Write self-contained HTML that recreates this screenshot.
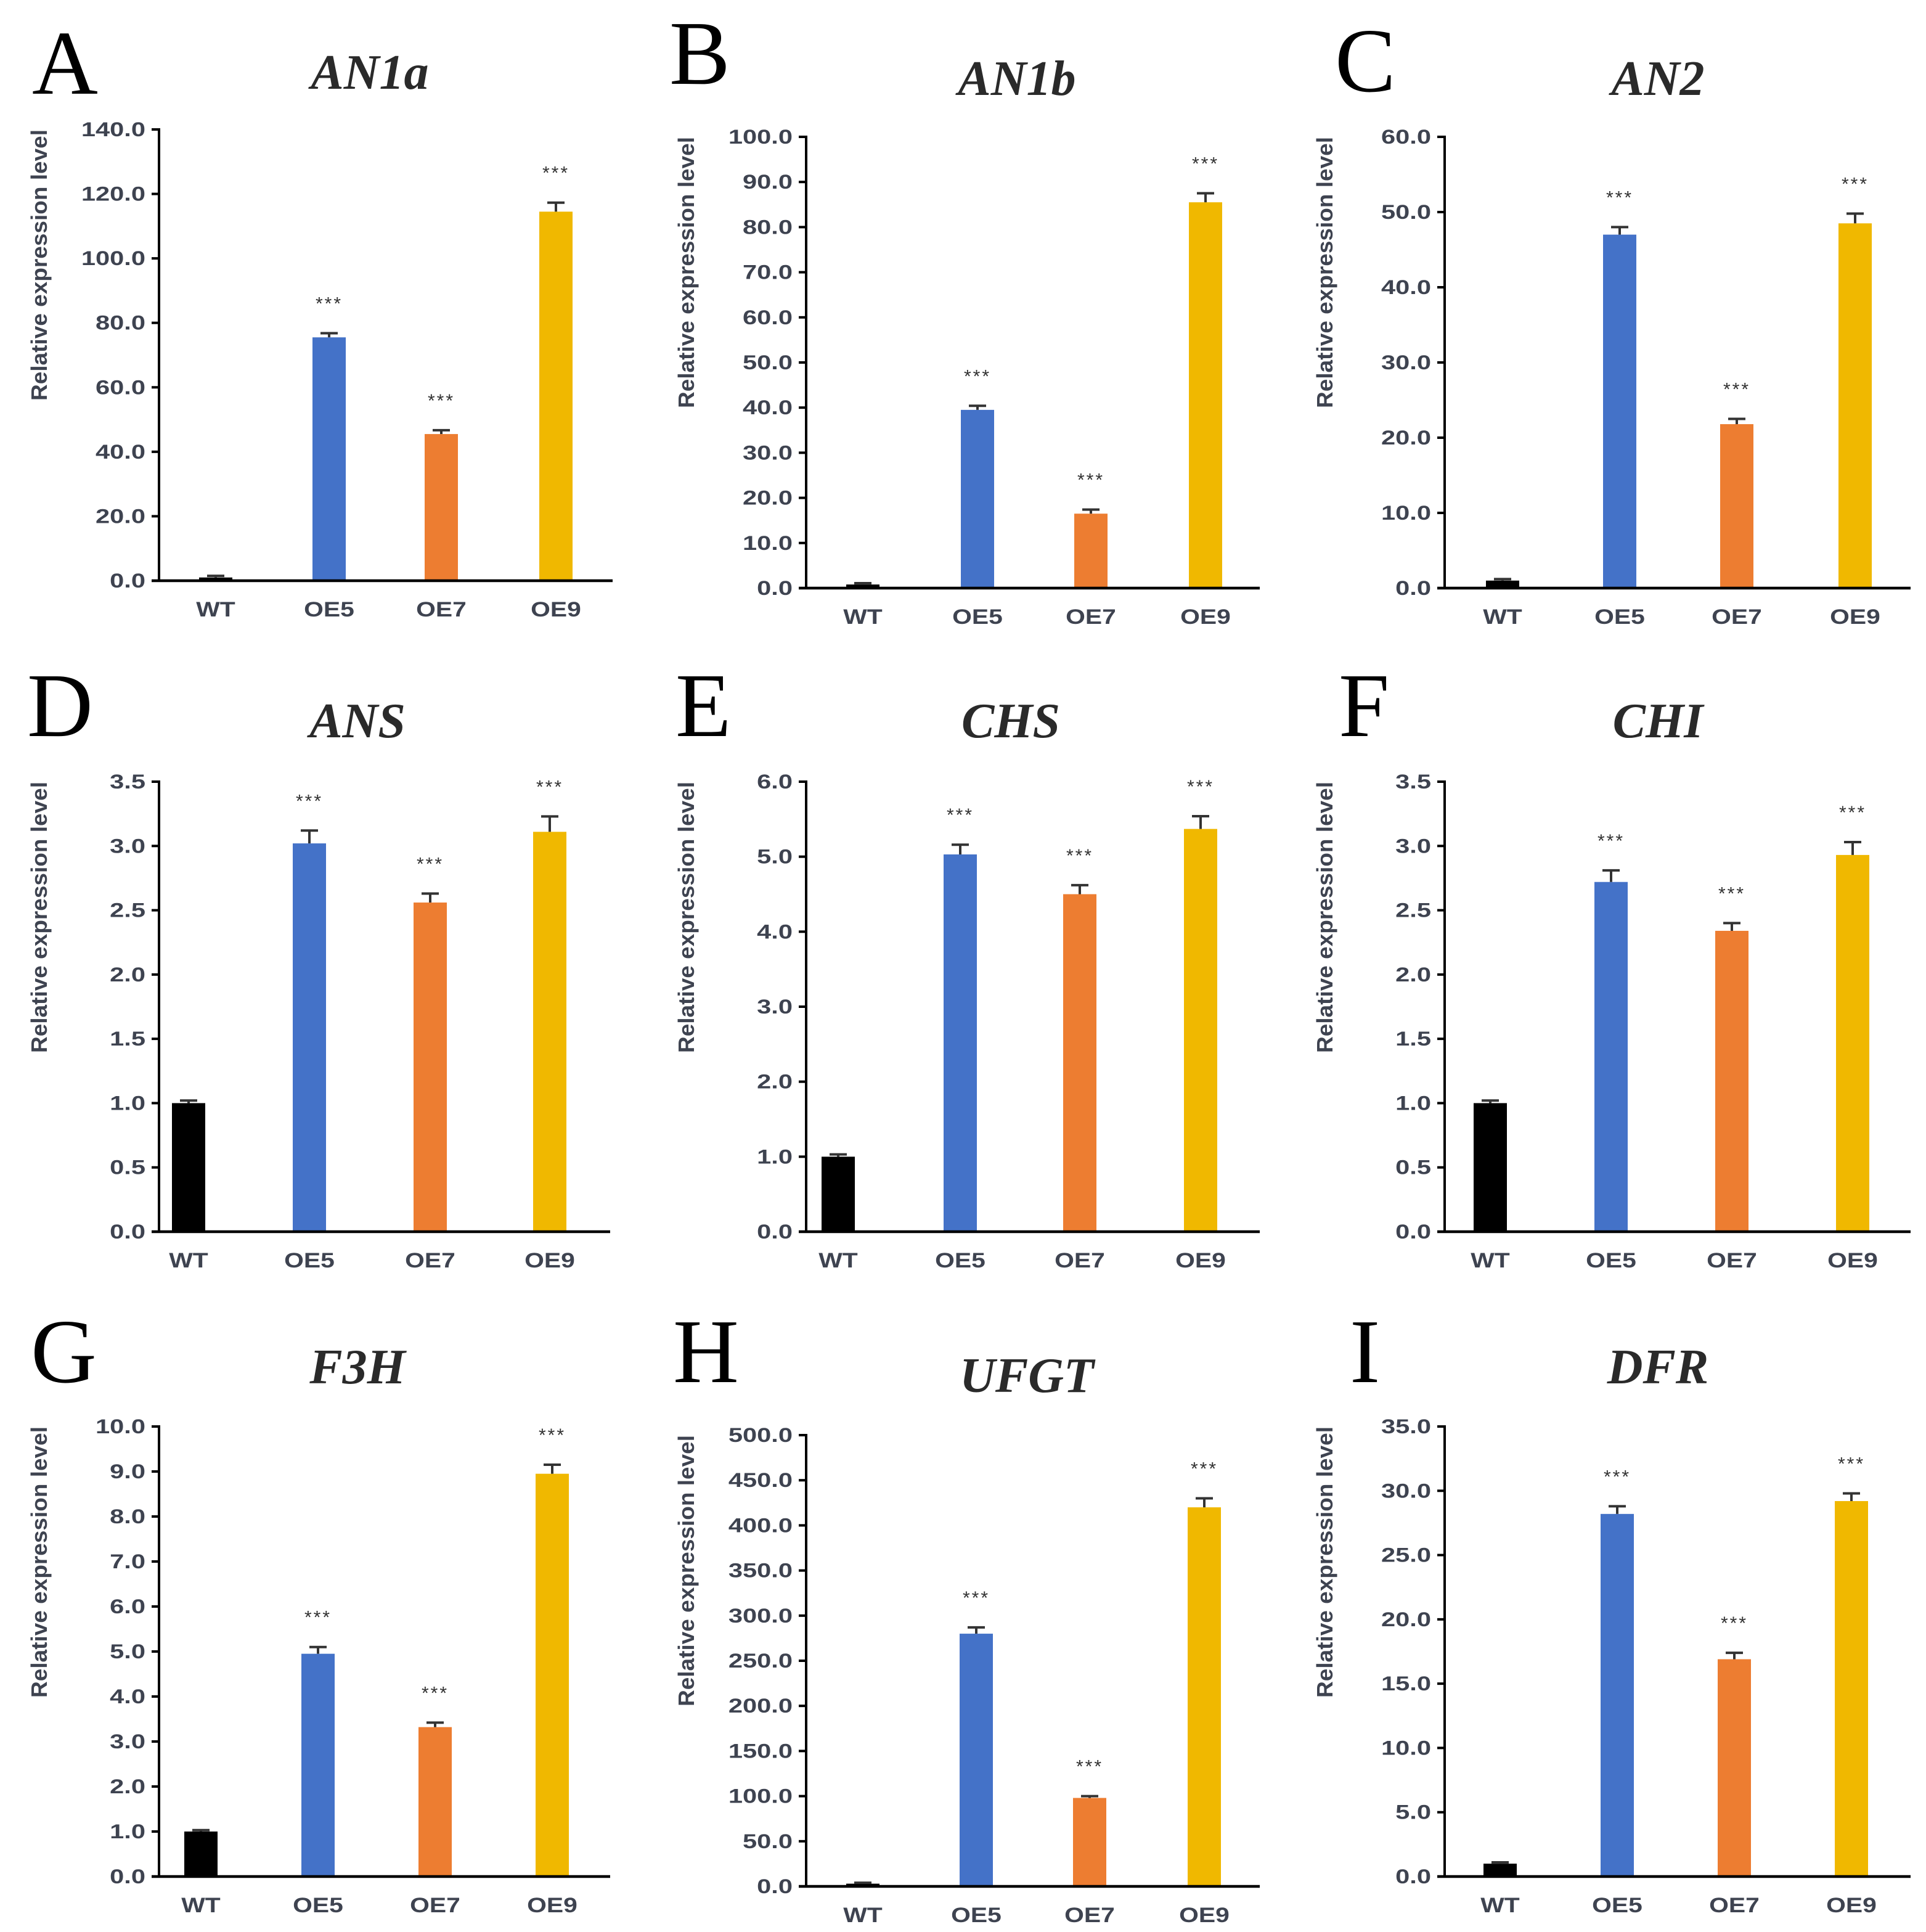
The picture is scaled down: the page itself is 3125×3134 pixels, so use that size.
<!DOCTYPE html>
<html><head><meta charset="utf-8"><style>html,body{margin:0;padding:0;background:#fff}svg{display:block}</style></head>
<body>
<svg id="fig" xmlns="http://www.w3.org/2000/svg" width="3125" height="3134" viewBox="0 0 1562.5 1567"></svg>
<script>
const categories = ["WT","OE5","OE7","OE9"];
const panelLetters = ["A","B","C","D","E","F","G","H","I"];
const panelTitles = ["AN1a","AN1b","AN2","ANS","CHS","CHI","F3H","UFGT","DFR"];
const yMaxValues = [140,100,60,3.5,6,3.5,10,500,35];
const yStepValues = [20,10,10,0.5,1,0.5,1,50,5];
const valsA=[1.0,75.5,45.5,114.5], errA=[0.5,1.3,1.2,2.8];
const valsB=[0.8,39.5,16.5,85.5], errB=[0.3,0.9,0.9,2.0];
const valsC=[1.0,47.0,21.8,48.5], errC=[0.2,1.0,0.7,1.3];
const valsD=[1.0,3.02,2.56,3.11], errD=[0.02,0.1,0.07,0.12];
const valsE=[1.0,5.03,4.5,5.37], errE=[0.03,0.13,0.12,0.17];
const valsF=[1.0,2.72,2.34,2.93], errF=[0.02,0.09,0.06,0.1];
const valsG=[1.0,4.95,3.32,8.95], errG=[0.03,0.15,0.1,0.2];
const valsH=[3,280,98,420], errH=[1,7,2,10];
const valsI=[1.0,28.2,16.9,29.2], errI=[0.1,0.6,0.5,0.6];
const allVals=[valsA,valsB,valsC,valsD,valsE,valsF,valsG,valsH,valsI];
const allErr=[errA,errB,errC,errD,errE,errF,errG,errH,errI];
const sigLabels=["","***","***","***"];

const layout=[
 {ax:129,top:105,zero:471,end:497,bx:[175,267,358,451],tx:300,ty:72,lx:26,ly:76},
 {ax:654,top:111,zero:477,end:1022,bx:[700,793,885,978],tx:825,ty:77,lx:543,ly:68},
 {ax:1172,top:111,zero:477,end:1550,bx:[1219,1314,1409,1505],tx:1345,ty:77,lx:1083,ly:74},
 {ax:129,top:634,zero:999,end:495,bx:[153,251,349,446],tx:290,ty:598,lx:22,ly:597},
 {ax:654,top:634,zero:999,end:1022,bx:[680,779,876,974],tx:820,ty:598,lx:548,ly:597},
 {ax:1172,top:634,zero:999,end:1550,bx:[1209,1307,1405,1503],tx:1345,ty:598,lx:1086,ly:597},
 {ax:129,top:1157,zero:1522,end:495,bx:[163,258,353,448],tx:290,ty:1122,lx:25,ly:1121},
 {ax:654,top:1164,zero:1530,end:1022,bx:[700,792,884,977],tx:833,ty:1129,lx:546,ly:1121},
 {ax:1172,top:1157,zero:1522,end:1550,bx:[1217,1312,1407,1502],tx:1345,ty:1122,lx:1095,ly:1121}
];
const colors=["#000000","#4472c8","#ed7d31","#f0b800"];
const NS="http://www.w3.org/2000/svg";
const svg=document.getElementById('fig');
function mk(tag,attrs,parent,text){const e=document.createElementNS(NS,tag);for(const k in attrs)e.setAttribute(k,attrs[k]);if(text!==undefined)e.textContent=text;parent.appendChild(e);return e;}
function stretch(e,f){const w=e.getComputedTextLength();e.setAttribute('textLength',w*f);e.setAttribute('lengthAdjust','spacingAndGlyphs');}
const tickFont='font-family:"Liberation Sans",Arial,sans-serif;font-weight:bold;fill:#3e4350;';
for(let p=0;p<9;p++){
  const L=layout[p];
  const g=mk('g',{},svg);
  
  
  const y=v=>L.zero-(v/yMaxValues[p])*(L.zero-L.top);
  const letter=mk('text',{x:L.lx,y:L.ly,style:'font-family:"Liberation Serif",serif;font-size:74px;fill:#000'},g,panelLetters[p]);
  
  
  const t=mk('text',{x:L.tx,y:L.ty,'text-anchor':'middle',style:'font-family:"Liberation Serif",serif;font-style:italic;font-weight:bold;font-size:40px;fill:#2a2a2a'},g,panelTitles[p]);
  
  
  const yl=L.ax-91, ym=L.top;
  const ylab=mk('text',{x:yl,y:ym,'text-anchor':'end',transform:`rotate(-90 ${yl} ${ym})`,style:tickFont+'font-size:18px',textLength:220,lengthAdjust:'spacingAndGlyphs'},g,'Relative expression level');
  
  
  const n=Math.round(yMaxValues[p]/yStepValues[p]);
  for(let i=0;i<=n;i++){
    const v=i*yStepValues[p], yy=y(v);
    mk('line',{x1:L.ax-6,x2:L.ax,y1:yy,y2:yy,stroke:'#000','stroke-width':2},g);
    const tl=mk('text',{x:L.ax-11,y:yy+5.5,'text-anchor':'end',style:tickFont+'font-size:16px'},g,v.toFixed(1));
    
    
    stretch(tl,1.3);
  }
  const vals=allVals[p], errs=allErr[p];
  for(let i=0;i<4;i++){
    const cx=L.bx[i], bw=27, top=y(vals[i]);
    const r=mk('rect',{x:cx-bw/2,y:top,width:bw,height:L.zero-top,fill:colors[i]},g);
    
    
    const et=y(vals[i]+errs[i]);
    mk('line',{x1:cx,x2:cx,y1:top,y2:et,stroke:'#333','stroke-width':2},g);
    mk('line',{x1:cx-7,x2:cx+7,y1:et,y2:et,stroke:'#333','stroke-width':2},g);
    if(sigLabels[i]){
      const s=mk('text',{x:cx,y:et-19,'text-anchor':'middle',style:'font-family:"Liberation Sans",sans-serif;font-size:15px;fill:#333;letter-spacing:1.5px'},g,sigLabels[i]);
      
      
    }
    const xl=mk('text',{x:cx,y:L.zero+29,'text-anchor':'middle',style:tickFont+'font-size:17px'},g,categories[i]);
    
    
    stretch(xl,1.2);
  }
  const ya=mk('line',{x1:L.ax,x2:L.ax,y1:L.top-1,y2:L.zero+1,stroke:'#000','stroke-width':2},g);
  
  
  const xa=mk('line',{x1:L.ax-6,x2:L.end,y1:L.zero,y2:L.zero,stroke:'#000','stroke-width':2.2},g);
  
  
}
</script>
</body></html>
